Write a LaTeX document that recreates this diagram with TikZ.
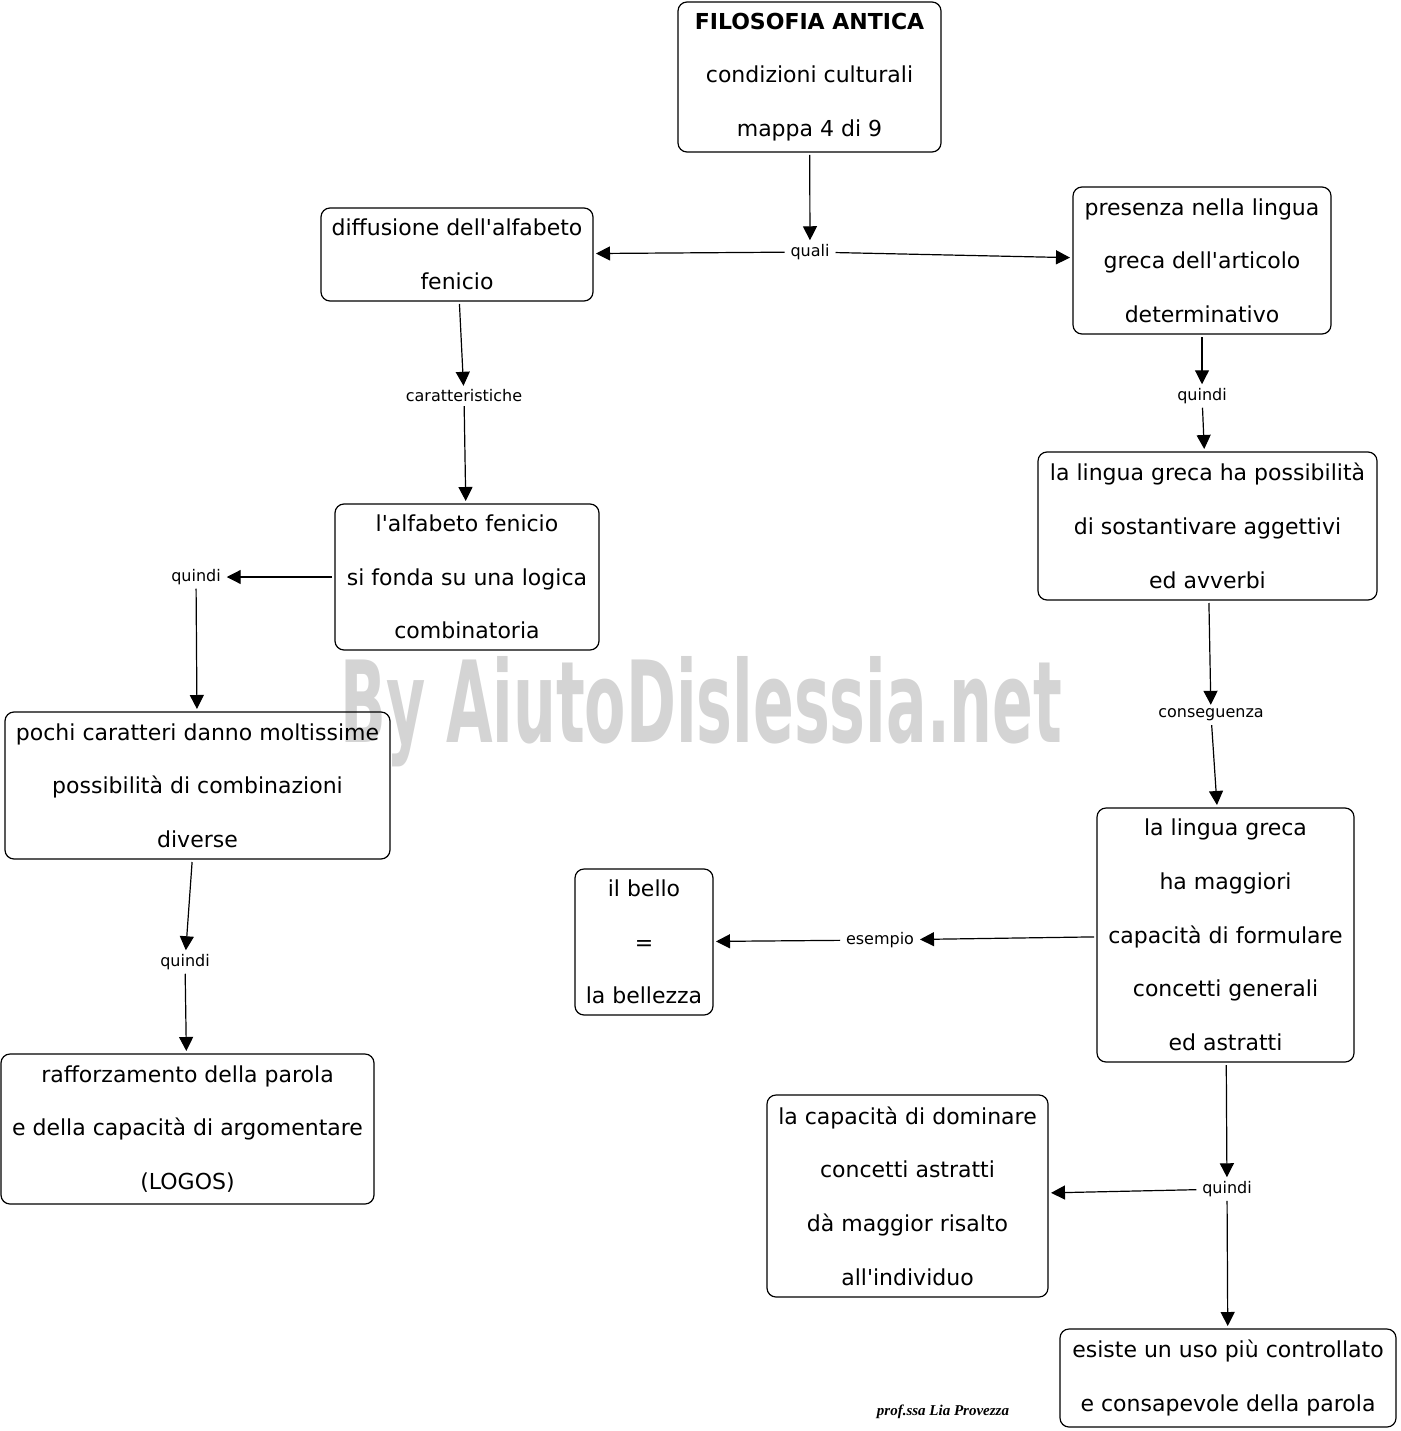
\documentclass[tikz,border=0pt]{standalone}
\usepackage{fontspec}
\setmainfont{DejaVu Sans}
\newfontfamily\marchiofont{DejaVu Sans Condensed Bold}
\newfontfamily\firmafont{Liberation Serif}
\usepackage{tikz}
\usetikzlibrary{arrows.meta}
\definecolor{grigiomarchio}{RGB}{212,212,212}
\newcommand{\ap}{\textquotesingle}
\tikzstyle{concetto}=[draw,rounded corners=9pt,line width=1.2pt,align=center,
                inner sep=0pt,outer sep=3pt,font=\fontsize{22}{53.7}\selectfont]
\tikzstyle{legame}=[fill=white,inner xsep=5pt,inner ysep=3pt,outer sep=1pt,
                font=\fontsize{16}{19}\selectfont]
\tikzstyle{lega}=[every edge/.style={draw,line width=1.2pt,
                -{Triangle[length=14pt,width=14pt]}}]

\begin{document}
\begin{tikzpicture}[lega,x=1pt,y=-1pt]
\useasboundingbox (0,0) rectangle (1400,1431);

% marchio sullo sfondo
\node[anchor=base west,inner sep=0pt,text=grigiomarchio] (marchio) at (340,742)
  {\resizebox{722pt}{86pt}{\marchiofont By AiutoDislessia.net}};

% concetti
\node[concetto,minimum width=263pt,minimum height=150pt] (fa) at (809.5,77)
  {\textbf{FILOSOFIA ANTICA}\\condizioni culturali\\mappa 4 di 9};
\node[concetto,minimum width=272pt,minimum height=93pt] (dif) at (457,254.5)
  {diffusione dell\ap alfabeto\\fenicio};
\node[concetto,minimum width=258pt,minimum height=147pt] (art) at (1202,260.5)
  {presenza nella lingua\\greca dell\ap articolo\\determinativo};
\node[concetto,minimum width=264pt,minimum height=146pt] (log) at (467,577)
  {l\ap alfabeto fenicio\\si fonda su una logica\\combinatoria};
\node[concetto,minimum width=339pt,minimum height=148pt] (sost) at (1207.5,526)
  {la lingua greca ha possibilità\\di sostantivare aggettivi\\ed avverbi};
\node[concetto,minimum width=385pt,minimum height=147pt] (comb) at (197.5,785.5)
  {pochi caratteri danno moltissime\\possibilità di combinazioni\\diverse};
\node[concetto,minimum width=373pt,minimum height=150pt] (parola) at (187.5,1129)
  {rafforzamento della parola\\e della capacità di argomentare\\(LOGOS)};
\node[concetto,minimum width=138pt,minimum height=146pt] (bello) at (644,942)
  {il bello\\=\\la bellezza};
\node[concetto,minimum width=257pt,minimum height=254pt] (astr) at (1225.5,935)
  {la lingua greca\\ha maggiori\\capacità di formulare\\concetti generali\\ed astratti};
\node[concetto,minimum width=281pt,minimum height=202pt] (ind) at (907.5,1196)
  {la capacità di dominare\\concetti astratti\\dà maggior risalto\\all\ap individuo};
\node[concetto,minimum width=336pt,minimum height=98pt] (uso) at (1228,1378)
  {esiste un uso più controllato\\e consapevole della parola};

% legami
\node[legame] (quali) at (810,252) {quali};
\node[legame] (car) at (464,396) {caratteristiche};
\node[legame] (q1) at (1202,396) {quindi};
\node[legame] (q2) at (196,577) {quindi};
\node[legame] (cons) at (1211,715) {conseguenza};
\node[legame] (q3) at (185,962) {quindi};
\node[legame] (es) at (880,940) {esempio};
\node[legame] (q4) at (1227,1189) {quindi};

\node[anchor=base,inner sep=0pt] (firma) at (943,1415)
  {\firmafont\bfseries\itshape\fontsize{15}{17}\selectfont prof.ssa Lia Provezza};

\path
(fa) edge (quali) (quali) edge (dif) edge (art)
(dif) edge (car) (car) edge (log)
(art) edge (q1) (q1) edge (sost)
(log) edge (q2) (q2) edge (comb)
(comb) edge (q3) (q3) edge (parola)
;
\path
(sost) edge (cons) (cons) edge (astr)
(astr) edge (es) (es) edge (bello)
(astr) edge (q4) (q4) edge (ind) edge (uso)
;

\end{tikzpicture}
\end{document}
